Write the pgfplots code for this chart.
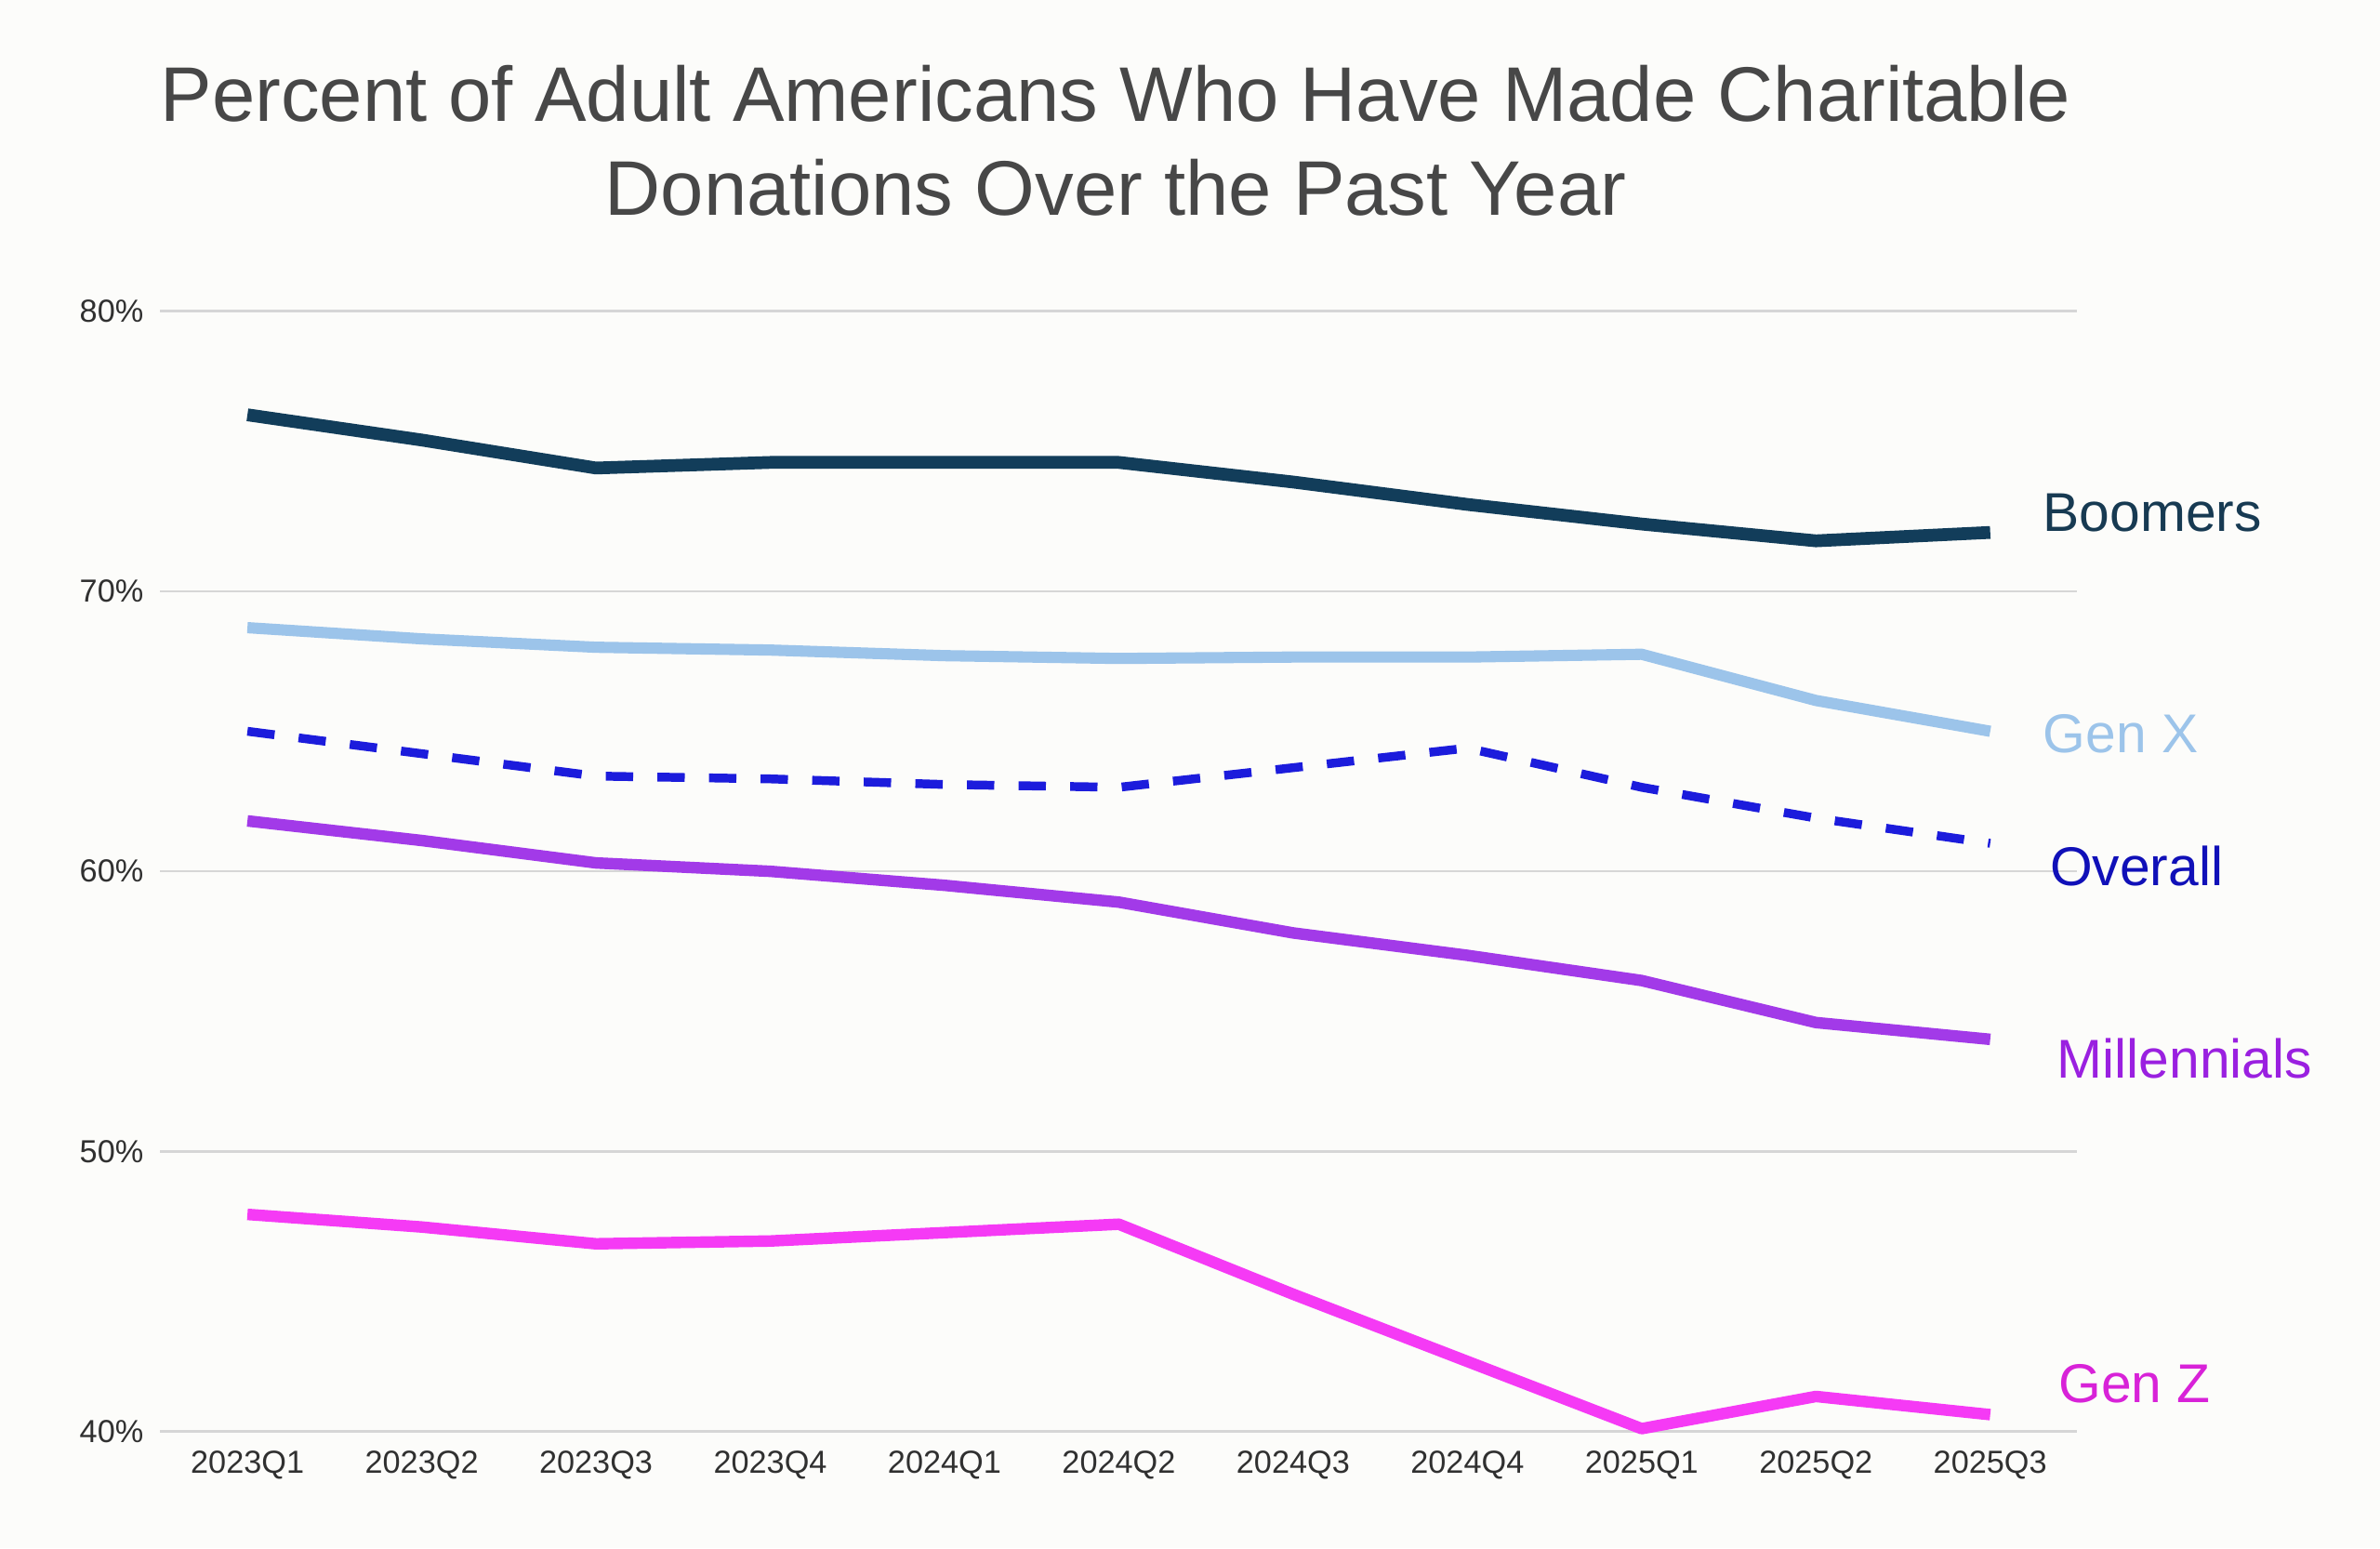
\documentclass[border=0pt]{standalone}
\usepackage{fontspec}
\setmainfont{Liberation Sans}
\usepackage{pgfplots}
\pgfplotsset{compat=1.18}

\definecolor{bgc}{HTML}{FCFCFA}
\definecolor{titlec}{HTML}{474747}
\definecolor{tickc}{HTML}{303030}
\definecolor{gridc}{HTML}{D6D6D6}
\definecolor{boomc}{HTML}{123D5A}
\definecolor{boomt}{HTML}{173A52}
\definecolor{genxc}{HTML}{9CC4EA}
\definecolor{overc}{HTML}{1C1CDC}
\definecolor{overt}{HTML}{1010B8}
\definecolor{millc}{HTML}{A23AE8}
\definecolor{millt}{HTML}{9A20E0}
\definecolor{genzc}{HTML}{F53AF5}
\definecolor{genzt}{HTML}{D822D8}

\begin{document}
\begin{tikzpicture}
\fill[bgc] (0,0) rectangle (784pt,510pt);
\node[anchor=base, text=titlec, font=\fontsize{25.5}{30}\selectfont] at (367.5pt,470pt)
  {Percent of Adult Americans Who Have Made Charitable};
\node[anchor=base, text=titlec, font=\fontsize{25.5}{30}\selectfont] at (367.5pt,439pt)
  {Donations Over the Past Year};
\begin{axis}[
  at={(52.8pt,38.5pt)}, anchor=south west,
  scale only axis, width=631.5pt, height=369pt,
  xmin=-0.5, xmax=10.5, ymin=40, ymax=80,
  xtick={0,...,10},
  xticklabels={2023Q1,2023Q2,2023Q3,2023Q4,2024Q1,2024Q2,2024Q3,2024Q4,2025Q1,2025Q2,2025Q3},
  ytick={40,50,...,80},
  yticklabel={\pgfmathprintnumber{\tick}\%},
  /pgf/number format/assume math mode=true,
  ymajorgrids, grid style={gridc, line width=0.8pt},
  axis line style={draw=none},
  major tick length=0pt,
  tick label style={font=\fontsize{10.5}{12}\selectfont, text=tickc},
  xticklabel style={yshift=-3pt},
  yticklabel style={xshift=-2pt},
  clip=false,
  line join=round,
]
\addplot[boomc, line width=4.2pt] coordinates {
 (0,76.3) (1,75.4) (2,74.4) (3,74.6) (4,74.6) (5,74.6) (6,73.9) (7,73.1) (8,72.4) (9,71.8) (10,72.1)};
\addplot[genxc, line width=3.7pt] coordinates {
 (0,68.7) (1,68.3) (2,68.0) (3,67.9) (4,67.7) (5,67.6) (6,67.65) (7,67.65) (8,67.75) (9,66.1) (10,65.0)};
\addplot[overc, line width=2.9pt, dash pattern=on 9pt off 8pt] coordinates {
 (0,65.0) (1,64.2) (2,63.4) (3,63.3) (4,63.1) (5,63.0) (6,63.7) (7,64.4) (8,63.0) (9,61.9) (10,61.0)};
\addplot[millc, line width=3.8pt] coordinates {
 (0,61.8) (1,61.1) (2,60.3) (3,60.0) (4,59.5) (5,58.9) (6,57.8) (7,57.0) (8,56.1) (9,54.6) (10,54.0)};
\addplot[genzc, line width=3.8pt] coordinates {
 (0,47.75) (1,47.3) (2,46.7) (3,46.8) (4,47.1) (5,47.4) (6,44.9) (7,42.5) (8,40.1) (9,41.25) (10,40.6)};
\node[anchor=west, text=boomt, font=\fontsize{18}{20}\selectfont, inner sep=0pt] at (axis cs:10.30,72.8) {Boomers};
\node[anchor=west, text=genxc, font=\fontsize{18}{20}\selectfont, inner sep=0pt] at (axis cs:10.30,64.9) {Gen X};
\node[anchor=west, text=overt, font=\fontsize{18}{20}\selectfont, inner sep=0pt] at (axis cs:10.34,60.2) {Overall};
\node[anchor=west, text=millt, font=\fontsize{18}{20}\selectfont, inner sep=0pt] at (axis cs:10.38,53.3) {Millennials};
\node[anchor=west, text=genzt, font=\fontsize{18}{20}\selectfont, inner sep=0pt] at (axis cs:10.39,41.7) {Gen Z};
\end{axis}
\end{tikzpicture}
\end{document}
